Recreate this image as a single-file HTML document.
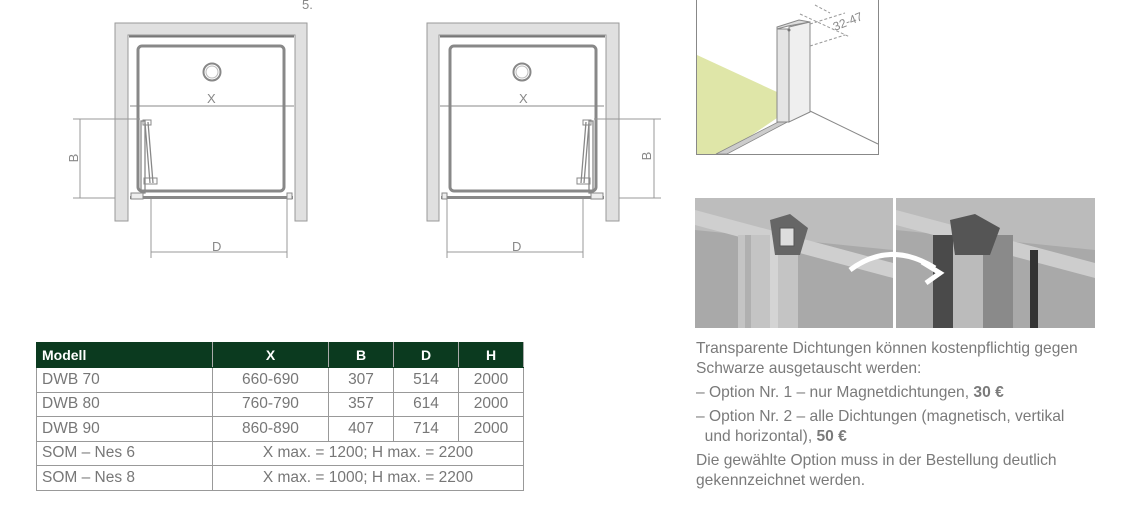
<!DOCTYPE html>
<html><head><meta charset="utf-8">
<style>
html,body{margin:0;padding:0;background:#fff;width:1133px;height:508px;overflow:hidden;position:relative;font-family:"Liberation Sans",sans-serif;}
svg{position:absolute;left:0;top:0}
table{position:absolute;left:36px;top:342px;border-collapse:collapse;font-size:15.5px;color:#777;table-layout:fixed;width:487px}
td,th{border:1px solid #999;height:23.5px;padding:0;text-align:center;}
th{background:#0b3a1f;color:#fff;font-weight:bold;font-size:14px;border-color:#0b3a1f;border-right:1px solid #aaa;height:24px}
td.l,th.l{text-align:left;padding-left:5px}
.txt{position:absolute;left:696px;top:339px;width:430px;color:#7a7a7a;font-size:15.6px;line-height:20px}
.txt p{margin:0 0 4px 0}
</style></head><body>
<svg width="1133" height="508" viewBox="0 0 1133 508">
<defs>
<g id="plan">
 <path d="M115,23 H307 V221 H295 V35 H128 V221 H115 Z" fill="#e0e0e0" stroke="#999" stroke-width="1"/>
 <rect x="129" y="35.5" width="165" height="2" fill="#777"/>
 <rect x="138" y="46" width="146" height="145" rx="4" fill="none" stroke="#888" stroke-width="3"/>
 <circle cx="212" cy="72" r="8.5" fill="none" stroke="#888" stroke-width="2"/>
 <circle cx="212" cy="72" r="6" fill="none" stroke="#bbb" stroke-width="1"/>
 <rect x="130" y="196" width="163" height="3" fill="#888"/>
 <line x1="130" y1="106" x2="294" y2="106" stroke="#888" stroke-width="1"/>
 <line x1="73" y1="119" x2="140" y2="119" stroke="#999" stroke-width="1"/>
 <line x1="73" y1="198" x2="115" y2="198" stroke="#999" stroke-width="1"/>
 <line x1="80" y1="119" x2="80" y2="198" stroke="#999" stroke-width="1"/>
 <line x1="151" y1="199" x2="151" y2="258" stroke="#999" stroke-width="1"/>
 <line x1="287" y1="199" x2="287" y2="258" stroke="#999" stroke-width="1"/>
 <line x1="151" y1="252" x2="287" y2="252" stroke="#999" stroke-width="1"/>
 <rect x="141" y="121" width="4" height="72" fill="none" stroke="#888" stroke-width="1.3"/>
 <path d="M145,123 L150,183 M148,122 L153,183" stroke="#888" stroke-width="1.3" fill="none"/>
 <rect x="143" y="120" width="8" height="5" fill="none" stroke="#888"/>
 <rect x="144" y="178" width="13" height="6" fill="none" stroke="#888"/>
 <rect x="131" y="193" width="12" height="6" fill="#eee" stroke="#888"/>
 <rect x="287" y="193" width="5" height="6" fill="#eee" stroke="#888"/>
</g>
</defs>
<use href="#plan"/>
<use href="#plan" transform="translate(734,0) scale(-1,1)"/>
<g font-family="Liberation Sans,sans-serif" font-size="13" fill="#888">
 <text x="302" y="9">5.</text>
 <text x="207" y="103">X</text>
 <text x="519" y="103">X</text>
 <text x="212" y="251">D</text>
 <text x="512" y="251">D</text>
 <text x="78" y="158" transform="rotate(-90 78 158)" text-anchor="middle">B</text>
 <text x="651" y="156" transform="rotate(-90 651 156)" text-anchor="middle">B</text>
</g>
<g>
 <rect x="696.5" y="-2" width="182" height="156.5" fill="#fff" stroke="#888"/>
 <polygon points="697,55 777,92 777,118 724,154 697,154" fill="#dfe6a8"/>
 <polygon points="716,154 788,117 793,119 727,154" fill="#ccc" stroke="#888" stroke-width="0.8"/>
 <line x1="810" y1="111" x2="878" y2="144" stroke="#888"/>
 <rect x="777" y="29" width="12" height="93" fill="#e4e4e4" stroke="#888"/>
 <polygon points="789,27 810,22 810,112 789,122" fill="#efefef" stroke="#888"/>
 <polygon points="777,29 788,26 810,22 799,20 777,27" fill="#ddd" stroke="#888"/>
 <circle cx="789" cy="30" r="1.5" fill="#777"/>
 <path d="M810,24 L845,13 M810,46 L845,35 M800,14 L850,37 M815,5 L830,13" stroke="#999" stroke-dasharray="3,2" fill="none"/>
 <text x="835" y="31" font-size="12" fill="#888" transform="rotate(-22 835 31)" font-family="Liberation Sans,sans-serif">32-47</text>
</g>
<g>
 <rect x="695" y="198" width="198" height="130" fill="#a9a9a9"/>
 <polygon points="695,198 893,198 893,250 695,230" fill="#bdbdbd"/>
 <polygon points="695,210 893,263 893,278 695,225" fill="#cfcfcf"/>
 <rect x="738" y="235" width="60" height="93" fill="#c4c4c4"/>
 <rect x="745" y="235" width="6" height="93" fill="#b0b0b0"/>
 <rect x="770" y="235" width="8" height="93" fill="#d4d4d4"/>
 <path d="M770,220 L790,214 L808,228 L800,255 L775,255 Z" fill="#666"/>
 <rect x="780" y="228" width="14" height="18" fill="#ddd" stroke="#555"/>
 <rect x="896" y="198" width="199" height="130" fill="#a9a9a9"/>
 <polygon points="896,198 1095,198 1095,250 896,230" fill="#bbb"/>
 <polygon points="896,210 1095,263 1095,278 896,225" fill="#cdcdcd"/>
 <rect x="933" y="235" width="20" height="93" fill="#4a4a4a"/>
 <rect x="953" y="235" width="30" height="93" fill="#bbb"/>
 <rect x="983" y="235" width="30" height="93" fill="#8a8a8a"/>
 <rect x="1030" y="250" width="8" height="78" fill="#333"/>
 <path d="M950,220 L975,214 L1000,228 L990,255 L955,255 Z" fill="#555"/>
 <path d="M850,270 Q890,240 935,268" stroke="#fff" stroke-width="5" fill="none"/>
 <path d="M922,262 L940,273 L926,283" stroke="#fff" stroke-width="5" fill="none"/>
</g>
</svg>
<table>
<colgroup><col style="width:176px"><col style="width:116px"><col style="width:65px"><col style="width:65px"><col style="width:65px"></colgroup>
<tr><th class="l">Modell</th><th>X</th><th>B</th><th>D</th><th>H</th></tr>
<tr><td class="l">DWB 70</td><td>660-690</td><td>307</td><td>514</td><td>2000</td></tr>
<tr><td class="l">DWB 80</td><td>760-790</td><td>357</td><td>614</td><td>2000</td></tr>
<tr><td class="l">DWB 90</td><td>860-890</td><td>407</td><td>714</td><td>2000</td></tr>
<tr><td class="l">SOM – Nes 6</td><td colspan="4">X max. = 1200; H max. = 2200</td></tr>
<tr><td class="l">SOM – Nes 8</td><td colspan="4">X max. = 1000; H max. = 2200</td></tr>
</table>
<div class="txt">
<p>Transparente Dichtungen können kostenpflichtig gegen<br>Schwarze ausgetauscht werden:</p>
<p>– Option Nr. 1 – nur Magnetdichtungen, <b>30 €</b></p>
<p>– Option Nr. 2 – alle Dichtungen (magnetisch, vertikal<br>&nbsp;&nbsp;und horizontal), <b>50 €</b></p>
<p>Die gewählte Option muss in der Bestellung deutlich<br>gekennzeichnet werden.</p>
</div>
</body></html>
